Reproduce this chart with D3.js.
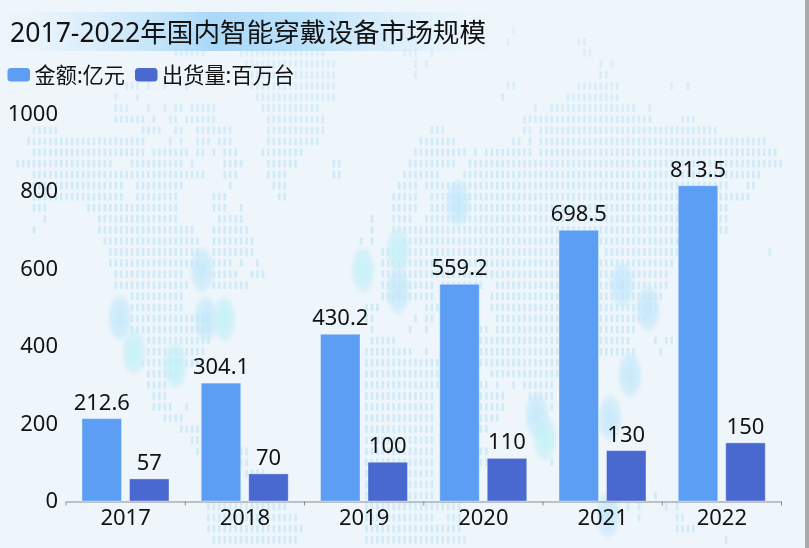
<!DOCTYPE html>
<html><head><meta charset="utf-8">
<script src="https://cdnjs.cloudflare.com/ajax/libs/d3/7.8.5/d3.min.js"></script>
<style>
html,body{margin:0;padding:0;background:#eef6fb;overflow:hidden}
svg{display:block}
text{font-family:"Noto Sans","Noto Sans CJK SC",sans-serif;fill:#121212}
</style></head><body><svg id="c" width="809" height="548"></svg>
<script>
const titleText = "2017-2022年国内智能穿戴设备市场规模";
const years = ["2017","2018","2019","2020","2021","2022"];
const seriesNames = ["金额:亿元","出货量:百万台"];
const amount = [212.6,304.1,430.2,559.2,698.5,813.5];
const shipment = [57,70,100,110,130,150];
const yTicks = [0,200,400,600,800,1000];
const seriesColors = ["#5b9ef4","#4a69d0"];

// Decorative dotted world map: [row, from, to, from, to, ...] in map units
const mapRuns = [
[0,515,518],[1,509,512,580,588],[2,175,207,242,327,402,417,430,433,582,595],[3,243,340,413,417,425,428,598,600,608,610],
[4,253,340,413,417,597,610],[5,125,140,147,150,163,167,185,193,253,340,508,517,580,622,670,676,685,688],
[6,113,118,135,138,257,339,503,505,568,622],
[7,113,133,147,155,163,167,175,183,192,217,263,322,532,534,552,638,647,655],
[8,113,145,152,155,168,178,185,217,268,328,525,655,680,700],
[9,35,62,140,162,175,183,197,233,265,327,430,445,523,533,542,722],
[10,25,145,168,173,180,188,197,210,220,233,268,322,418,460,513,523,530,533,542,767],
[11,30,145,152,190,197,207,213,217,225,238,263,305,413,467,475,477,485,533,540,778],
[12,18,117,130,188,192,195,225,243,268,300,330,345,408,457,468,783],
[13,35,207,225,238,268,288,335,345,402,443,463,762],
[14,35,128,135,183,230,233,275,288,397,418,427,728,745,760],
[15,35,63,68,128,135,178,213,228,280,288,390,418,428,728,730,750],
[16,35,50,85,178,213,228,240,243,390,420,430,728],
[17,42,50,97,178,218,245,368,372,392,415,423,728],
[18,30,33,97,195,213,250,368,372,390,728],
[19,102,200,213,255,358,367,373,378,402,722],
[20,107,200,213,255,380,600,607,680,768,770],
[21,107,200,213,233,242,245,258,262,380,677],
[22,113,183,213,240,252,267,383,673],
[23,113,190,213,250,383,436,440,483,497,673],
[24,130,188,380,436,490,667],
[25,130,188,363,383,425,477,490,660],
[26,130,213,367,377,413,416,425,428,433,437,497,650],
[27,133,213,368,372,410,412,425,428,480,488,497,638],
[28,147,213,368,400,480,632,653,655,663,677],
[29,147,205,363,412,425,428,480,638,658,660],
[30,142,205,363,440,480,600],
[31,145,180,363,440,490,600],
[32,147,167,363,440,480,488,498,500,515,517,525,557],
[33,153,167,363,438,480,505,530,557],
[34,153,172,187,190,363,438,480,505,550,557],
[35,163,188,363,438,480,500],
[36,180,200,363,438,480,488],
[37,192,200,363,438],
[38,197,200,240,250,363,438,480,488],
[39,240,250,363,438,480,488,553,555],
[40,247,267,363,438],
[41,363,438],
[42,363,438,653,655],
[43,208,288,363,463,627,629,637,639,665,667,675,683],
[44,208,300,363,438,447,463,637,643,675,687],
[45,208,305,363,462,675,695],
[46,213,300,363,467,725,727]
];
// Glow blobs: [centre, centre, kind]
const blobs = [[120,318,"b"],[134,352,"c"],[175,366,"c"],[206,319,"b"],[224,319,"c"],[202,270,"b"],[363,270,"c"],
[398,250,"c"],[398,291,"b"],[458,203,"b"],[622,285,"b"],[648,309,"b"],[630,375,"b"],[610,418,"b"],[537,415,"b"],[545,438,"c"],[608,515,"b"]];

const svg = d3.select("#c");
const defs = svg.append("defs");
const band = defs.append("linearGradient").attr("id","band");
[[0,"#d6ecfb",0],[0.42,"#a9d8f8",1],[0.6,"#b4def9",0.9],[1,"#dff0fb",0]].forEach(s=>band.append("stop").attr("offset",s[0]).attr("stop-color",s[1]).attr("stop-opacity",s[2]));
const gb = defs.append("radialGradient").attr("id","gb");
gb.append("stop").attr("offset",0).attr("stop-color","#bfe6fb").attr("stop-opacity",0.85);
gb.append("stop").attr("offset",0.75).attr("stop-color","#c6e8fa").attr("stop-opacity",0.65);
gb.append("stop").attr("offset",1).attr("stop-color","#d2ecfa").attr("stop-opacity",0.2);
const gc = defs.append("radialGradient").attr("id","gc");
gc.append("stop").attr("offset",0).attr("stop-color","#bdf3f8").attr("stop-opacity",0.9);
gc.append("stop").attr("offset",0.75).attr("stop-color","#c8edf7").attr("stop-opacity",0.65);
gc.append("stop").attr("offset",1).attr("stop-color","#d5f0f8").attr("stop-opacity",0.2);
defs.append("filter").attr("id","soft").append("feGaussianBlur").attr("stdDeviation",0.7);
defs.append("filter").attr("id","softer").append("feGaussianBlur").attr("stdDeviation",1.2);

// background
svg.append("rect").attr("width",809).attr("height",548).attr("fill","#eef6fb");
const mapX = d3.scaleLinear().domain([0,809]).range([0,809]);
const mapY = d3.scaleLinear().domain([0,46]).range([31,540]);
const fade = d3.scaleLinear().domain([31,170,540]).range([0.45,0.85,0.8]);
const dotStep = 5.45;
const dots = [];
mapRuns.forEach(r=>{
  for(let i=1;i<r.length;i+=2){
    const a=Math.round(r[i]/dotStep), b=Math.round(r[i+1]/dotStep);
    for(let c=a;c<=Math.max(a,b-1);c++) dots.push([c*dotStep,r[0]]);
  }
});
svg.append("g").attr("filter","url(#soft)").selectAll("rect").data(dots).join("rect")
  .attr("x",d=>mapX(d[0])).attr("y",d=>mapY(d[1])-4).attr("width",2.6).attr("height",7.5)
  .attr("fill","#cae7f7").attr("opacity",d=>fade(mapY(d[1])));
svg.append("g").selectAll("ellipse").data(blobs).join("ellipse")
  .attr("cx",d=>d[0]).attr("cy",d=>d[1]).attr("rx",12.5).attr("ry",24)
  .attr("fill",d=>d[2]==="c"?"url(#gc)":"url(#gb)").attr("filter","url(#softer)");

// right edge strip
svg.append("rect").attr("x",805).attr("y",0).attr("width",4).attr("height",548).attr("fill","#a9a9a9");

// title
svg.append("rect").attr("x",0).attr("y",12).attr("width",505).attr("height",39).attr("fill","url(#band)");
svg.append("text").attr("x",10).attr("y",42).attr("font-size",26.6).text(titleText);

// legend
const legendX = [7.5,135];
const lg = svg.append("g").selectAll("g").data(seriesNames).join("g").attr("transform",(d,i)=>`translate(${legendX[i]},68)`);
lg.append("rect").attr("width",22.5).attr("height",13.5).attr("rx",3.5).attr("fill",(d,i)=>seriesColors[i]);
lg.append("text").attr("x",27).attr("y",14.5).attr("font-size",21.2).text(d=>d);

// scales
const x0 = d3.scaleBand().domain(years).range([66,781.5]);
const x1 = d3.scaleBand().domain([0,1]).range([16,103]).paddingInner(0.168);
const y = d3.scaleLinear().domain([0,1000]).range([501,113.4]);

// axes
const yAxis = svg.append("g").attr("transform","translate(58,0)")
  .call(d3.axisLeft(y).tickValues(yTicks).tickFormat(d3.format("d")).tickSize(0).tickPadding(0));
yAxis.select(".domain").remove();
yAxis.selectAll("text").attr("font-size",22).attr("fill","#121212").attr("font-family",null).attr("dy","0.3em");

const xAxis = svg.append("g").attr("transform","translate(0,501.5)").call(d3.axisBottom(x0).tickSize(0).tickPadding(8));
xAxis.select(".domain").attr("stroke","#8a8a8a");
xAxis.selectAll("text").attr("font-size",22).attr("fill","#121212").attr("font-family",null);
xAxis.selectAll(".edge").data(years.map(d=>x0(d)).concat([x0.range()[1]])).join("line").attr("class","edge")
  .attr("x1",d=>d).attr("x2",d=>d).attr("y1",0).attr("y2",4).attr("stroke","#8a8a8a");

// bars
const rows = years.map((yr,i)=>({yr,vals:[amount[i],shipment[i]]}));
const grp = svg.append("g").selectAll("g").data(rows).join("g").attr("transform",d=>`translate(${x0(d.yr)},0)`);
grp.selectAll("rect").data(d=>d.vals).join("rect")
  .attr("x",(d,i)=>x1(i)).attr("width",x1.bandwidth())
  .attr("y",d=>y(d)).attr("height",d=>y(0)-y(d))
  .attr("fill",(d,i)=>seriesColors[i]).attr("stroke","#ffffff").attr("stroke-opacity",0.35).attr("stroke-width",1);
grp.selectAll("text").data(d=>d.vals).join("text")
  .attr("x",(d,i)=>x1(i)+x1.bandwidth()/2).attr("y",d=>y(d)-9)
  .attr("text-anchor","middle").attr("font-size",22).text(d=>d);
</script></body></html>
